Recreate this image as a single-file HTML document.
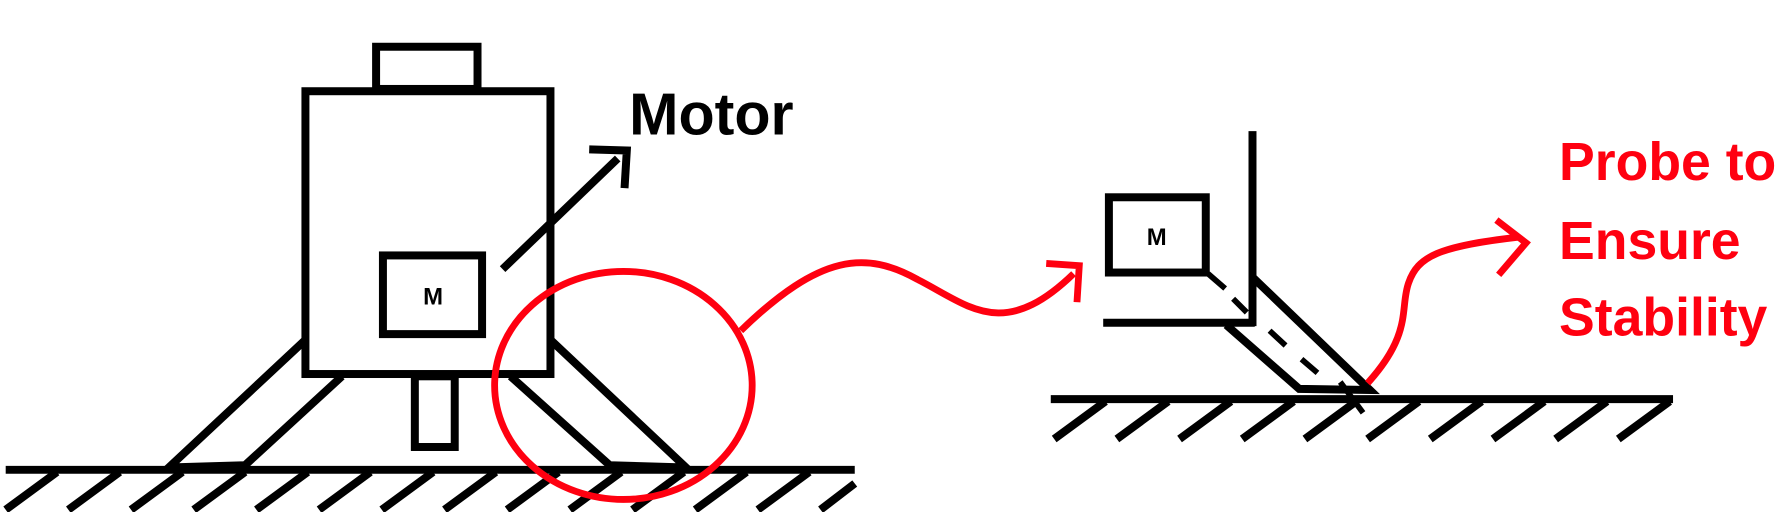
<!DOCTYPE html>
<html><head><meta charset="utf-8"><style>
html,body{margin:0;padding:0;background:#fff;}
svg{display:block;}
text{font-family:"Liberation Sans",sans-serif;font-weight:bold;}
</style></head><body>
<svg width="1787" height="512" viewBox="0 0 1568 449" preserveAspectRatio="none">
<g fill="none" stroke="#000" stroke-width="7">
  <g>
    <line x1="5" y1="412" x2="750" y2="412"/>
    <path d="M5,447 L50,414 M60,447 L105,414 M115,447 L160,414 M170,447 L215,414 M225,447 L270,414 M280,447 L325,414 M335,447 L380,414 M390,447 L435,414 M445,447 L490,414 M500,447 L545,414 M555,447 L600,414 M610,447 L655,414 M665,447 L710,414 M720,447 L750,424"/>
  </g>
  <g>
    <rect x="268" y="80" width="215" height="248"/>
    <rect x="330" y="41" width="89" height="37"/>
    <rect x="336" y="224" width="87" height="69"/>
    <rect x="364" y="330" width="35" height="62"/>
  </g>
  <g>
    <path d="M268,298 L148,410 L215,408 L300,330"/>
    <path d="M483,298 L602,410 L535,408 L448,330"/>
  </g>
  <g>
    <line x1="441" y1="236" x2="542" y2="139"/>
    <path d="M517,131 L550,132 L548,165"/>
  </g>
  <g>
    <line x1="922" y1="350" x2="1468" y2="350"/>
    <path d="M925,385 L970,352 M980,385 L1025,352 M1035,385 L1080,352 M1090,385 L1135,352 M1145,385 L1190,352 M1200,385 L1245,352 M1255,385 L1300,352 M1310,385 L1355,352 M1365,385 L1410,352 M1420,385 L1465,352"/>
  </g>
  <g>
    <rect x="973" y="173" width="85" height="66"/>
    <line x1="1099" y1="115" x2="1099" y2="286"/>
    <line x1="968" y1="283" x2="1101" y2="283"/>
    <path d="M1099,243 L1202,342 L1140,341 L1076,285"/>
    <path d="M1060,240 L1075,253 M1082,262 L1094,274 M1114,290 L1128,303 M1142,315 L1156,327 M1176,335 L1196,362" stroke-width="5"/>
  </g>
</g>
<g fill="none" stroke="#ff0010" stroke-width="6">
  <ellipse cx="547" cy="338" rx="113" ry="100"/>
  <path d="M650,290 C720,222 760,220 805,245 C850,268 880,300 942,240"/>
  <path d="M918,231 L947,233 L945,265"/>
  <path d="M1200,336 C1240,292 1228,270 1236,248 C1244,225 1262,216 1332,208"/>
  <path d="M1313,193 L1339,213 L1315,241"/>
</g>
<text x="380" y="267" font-size="21" text-anchor="middle" fill="#000">M</text>
<text x="1015" y="215" font-size="21" text-anchor="middle" fill="#000">M</text>
<text x="552" y="118" font-size="52" fill="#000">Motor</text>
<g fill="#ff0010" font-size="47">
  <text x="1368" y="158">Probe to</text>
  <text x="1368" y="227">Ensure</text>
  <text x="1368" y="294">Stability</text>
</g>
</svg>
</body></html>
